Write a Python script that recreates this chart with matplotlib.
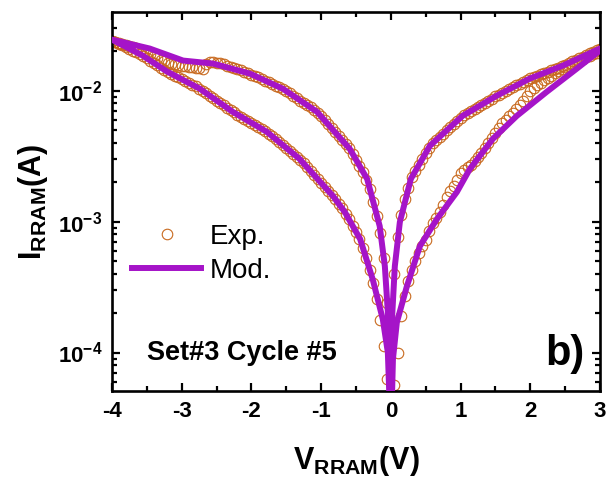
import numpy as np
import matplotlib
matplotlib.use('Agg')
import matplotlib.pyplot as plt
from matplotlib.ticker import MultipleLocator, LogLocator, FuncFormatter, NullFormatter

plt.rcParams['font.family'] = 'Liberation Sans'
plt.rcParams['mathtext.fontset'] = 'custom'
plt.rcParams['mathtext.rm'] = 'Liberation Sans'
plt.rcParams['mathtext.bf'] = 'Liberation Sans:bold'
plt.rcParams['axes.unicode_minus'] = False

# ---- measured points, sweep voltage (V) and log10 of current (A) ----
v_neg = [-4.0, -3.95, -3.9, -3.85, -3.8, -3.75, -3.7, -3.65, -3.6, -3.55,
         -3.5, -3.45, -3.4, -3.35, -3.3, -3.25, -3.2, -3.15, -3.1, -3.05,
         -3.0, -2.95, -2.9, -2.85, -2.8, -2.75, -2.7, -2.65, -2.6, -2.55,
         -2.5, -2.45, -2.4, -2.35, -2.3, -2.25, -2.2, -2.15, -2.1, -2.05,
         -2.0, -1.95, -1.9, -1.85, -1.8, -1.75, -1.7, -1.65, -1.6, -1.55,
         -1.5, -1.45, -1.4, -1.35, -1.3, -1.25, -1.2, -1.15, -1.1, -1.05,
         -1.0, -0.95, -0.9, -0.85, -0.8, -0.75, -0.7, -0.65, -0.6, -0.55,
         -0.5, -0.45, -0.4, -0.35, -0.3, -0.25, -0.2, -0.15, -0.1, -0.05]
v_pos = [0.05, 0.1, 0.15, 0.2, 0.25, 0.3, 0.35, 0.4, 0.45, 0.5,
         0.55, 0.6, 0.65, 0.7, 0.75, 0.8, 0.85, 0.9, 0.95, 1.0,
         1.05, 1.1, 1.15, 1.2, 1.25, 1.3, 1.35, 1.4, 1.45, 1.5,
         1.55, 1.6, 1.65, 1.7, 1.75, 1.8, 1.85, 1.9, 1.95, 2.0,
         2.05, 2.1, 2.15, 2.2, 2.25, 2.3, 2.35, 2.4, 2.45, 2.5,
         2.55, 2.6, 2.65, 2.7, 2.75, 2.8, 2.85, 2.9, 2.95, 3.0]

# negative sweep, upper branch
exp_neg_hi = [-1.62, -1.626, -1.632, -1.64, -1.648, -1.655, -1.663, -1.674, -1.686, -1.697,
              -1.709, -1.72, -1.732, -1.747, -1.762, -1.774, -1.785, -1.793, -1.80, -1.804,
              -1.808, -1.812, -1.816, -1.82, -1.824, -1.828, -1.831, -1.80, -1.778, -1.78,
              -1.785, -1.792, -1.80, -1.808, -1.816, -1.823, -1.831, -1.842, -1.854, -1.865,
              -1.877, -1.887, -1.897, -1.91, -1.924, -1.937, -1.95, -1.962, -1.975, -1.989,
              -2.003, -2.021, -2.04, -2.057, -2.075, -2.092, -2.11, -2.128, -2.147, -2.17,
              -2.197, -2.226, -2.257, -2.287, -2.318, -2.348, -2.378, -2.408, -2.438, -2.48,
              -2.527, -2.572, -2.619, -2.68, -2.754, -2.85, -2.954, -3.09, -3.28, -3.62]
# negative sweep, lower branch
exp_neg_lo = [-1.617, -1.628, -1.64, -1.654, -1.668, -1.681, -1.695, -1.708, -1.721, -1.737,
              -1.753, -1.77, -1.788, -1.805, -1.823, -1.84, -1.857, -1.871, -1.885, -1.898,
              -1.912, -1.926, -1.94, -1.954, -1.968, -1.984, -2.0, -2.018, -2.037, -2.056,
              -2.075, -2.093, -2.112, -2.131, -2.15, -2.166, -2.183, -2.198, -2.214, -2.23,
              -2.245, -2.26, -2.276, -2.292, -2.308, -2.328, -2.349, -2.371, -2.393, -2.415,
              -2.437, -2.459, -2.481, -2.504, -2.527, -2.556, -2.586, -2.615, -2.645, -2.674,
              -2.704, -2.734, -2.764, -2.795, -2.827, -2.862, -2.898, -2.94, -2.983, -3.03,
              -3.078, -3.135, -3.202, -3.28, -3.373, -3.47, -3.59, -3.75, -3.95, -4.2]
# positive sweep, upper branch
exp_pos_hi = [-3.40, -3.12, -2.95, -2.83, -2.74, -2.662, -2.615, -2.569, -2.523, -2.477,
              -2.437, -2.401, -2.377, -2.353, -2.328, -2.304, -2.28, -2.255, -2.231, -2.207,
              -2.188, -2.17, -2.155, -2.139, -2.123, -2.107, -2.092, -2.076, -2.06, -2.044,
              -2.03, -2.016, -2.002, -1.988, -1.974, -1.96, -1.946, -1.933, -1.92, -1.906,
              -1.896, -1.885, -1.875, -1.864, -1.854, -1.843, -1.833, -1.823, -1.812, -1.801,
              -1.789, -1.776, -1.764, -1.752, -1.74, -1.727, -1.715, -1.703, -1.69, -1.678]
# positive sweep, lower branch
exp_pos_lo = [-4.25, -4.0, -3.72, -3.57, -3.45, -3.37, -3.30, -3.24, -3.19, -3.14,
              -3.07, -3.01, -2.97, -2.93, -2.87, -2.81, -2.77, -2.73, -2.68, -2.63,
              -2.605, -2.585, -2.565, -2.54, -2.51, -2.475, -2.44, -2.40, -2.36, -2.32,
              -2.285, -2.25, -2.222, -2.195, -2.167, -2.14, -2.11, -2.08, -2.04, -2.005,
              -1.982, -1.96, -1.94, -1.92, -1.902, -1.885, -1.867, -1.85, -1.836, -1.822,
              -1.809, -1.796, -1.783, -1.77, -1.757, -1.745, -1.733, -1.722, -1.711, -1.70]

# ---- model curve (V, log10 of current) ----
mod_a_v = [-4.0, -3.46, -2.98, -2.55, -2.02, -1.55, -1.06, -0.59, -0.34, -0.16, -0.086, -0.043, -0.014, -0.002]
mod_a_log = [-1.61, -1.678, -1.770, -1.793, -1.870, -1.985, -2.161, -2.444, -2.674, -3.034, -3.341, -3.693, -4.077, -4.6]
mod_b_v = [-4.0, -3.56, -3.21, -2.74, -2.27, -1.78, -1.31, -0.83, -0.66, -0.44, -0.26, -0.115, -0.043, -0.004]
mod_b_log = [-1.61, -1.732, -1.854, -1.985, -2.161, -2.314, -2.521, -2.805, -2.927, -3.134, -3.441, -3.747, -4.0, -4.6]
mod_c_v = [0.002, 0.014, 0.057, 0.129, 0.287, 0.56, 1.03, 1.52, 1.99, 2.47, 3.0]
mod_c_log = [-4.6, -3.770, -3.341, -3.004, -2.674, -2.421, -2.192, -2.038, -1.908, -1.808, -1.678]
mod_d_v = [0.004, 0.03, 0.086, 0.23, 0.416, 0.66, 0.947, 1.133, 1.463, 1.808, 2.238, 2.669, 3.0]
mod_d_log = [-4.6, -4.05, -3.770, -3.494, -3.188, -2.981, -2.774, -2.598, -2.368, -2.192, -2.008, -1.831, -1.693]

x_ticks = [-4, -3, -2, -1, 0, 1, 2, 3]

c_exp = '#c8691e'
c_mod = '#a514c8'

exp_v = np.concatenate([v_pos, v_pos[::-1], v_neg[::-1], v_neg])
exp_i = 10 ** np.concatenate([exp_pos_hi, exp_pos_lo[::-1], exp_neg_lo[::-1], exp_neg_hi])
mod_v = np.concatenate([mod_c_v, mod_d_v[::-1], mod_b_v[::-1], mod_a_v])
mod_i = 10 ** np.concatenate([mod_c_log, mod_d_log[::-1], mod_b_log[::-1], mod_a_log])

fig = plt.figure(figsize=(6.09, 4.8), dpi=100)
ax = fig.add_axes([0.1839, 0.1844, 0.8013, 0.7906])

ax.plot(exp_v, exp_i, 'o', mfc='none', mec=c_exp, ms=7.6, mew=0.8, label='Exp.', zorder=2)
ax.plot(mod_v, mod_i, '-', color=c_mod, lw=4.3, solid_joinstyle='round', label='Mod.', zorder=3)

ax.set_yscale('log')
ax.set_xlim(-4, 3)
ax.set_ylim(5.04e-5, 0.0399)

ax.xaxis.set_major_locator(plt.FixedLocator(x_ticks))
ax.xaxis.set_minor_locator(MultipleLocator(0.5))
ax.xaxis.set_major_formatter(FuncFormatter(lambda v, p: '%d' % round(v)))
ax.yaxis.set_major_locator(LogLocator(base=10, numticks=10))
ax.yaxis.set_minor_locator(LogLocator(base=10, subs=np.arange(2, 10), numticks=20))
ax.yaxis.set_minor_formatter(NullFormatter())
ax.yaxis.set_major_formatter(FuncFormatter(lambda v, p: r'$\mathbf{10^{%d}}$' % round(np.log10(v))))

ax.tick_params(which='both', direction='in', top=True, right=True, width=1.6, labelsize=16, pad=7)
ax.tick_params(which='major', length=6)
ax.tick_params(which='minor', length=3.5)
plt.setp(ax.get_xticklabels(), fontweight='bold')
for s in ax.spines.values():
    s.set_linewidth(1.9)

ax.set_xlabel(r'$\mathbf{V_{RRAM}(V)}$', fontsize=22)
ax.set_ylabel(r'$\mathbf{I_{RRAM}(A)}$', fontsize=22)
ax.xaxis.set_label_coords(0.5, -0.138)
ax.yaxis.set_label_coords(-0.127, 0.5)

ax.legend(loc='center left', bbox_to_anchor=(0.041, 0.3625), frameon=False, fontsize=20,
          handlelength=2.5, handletextpad=0.3, labelspacing=0.3, borderpad=0,
          borderaxespad=0, markerscale=1.0)

ax.text(0.0717, 0.083, 'Set#3 Cycle #5', transform=ax.transAxes, fontsize=19.5,
        fontweight='bold', va='baseline')
ax.text(0.887, 0.070, 'b)', transform=ax.transAxes, fontsize=30,
        fontweight='bold', va='baseline')

fig.savefig('out.png', dpi=100)
